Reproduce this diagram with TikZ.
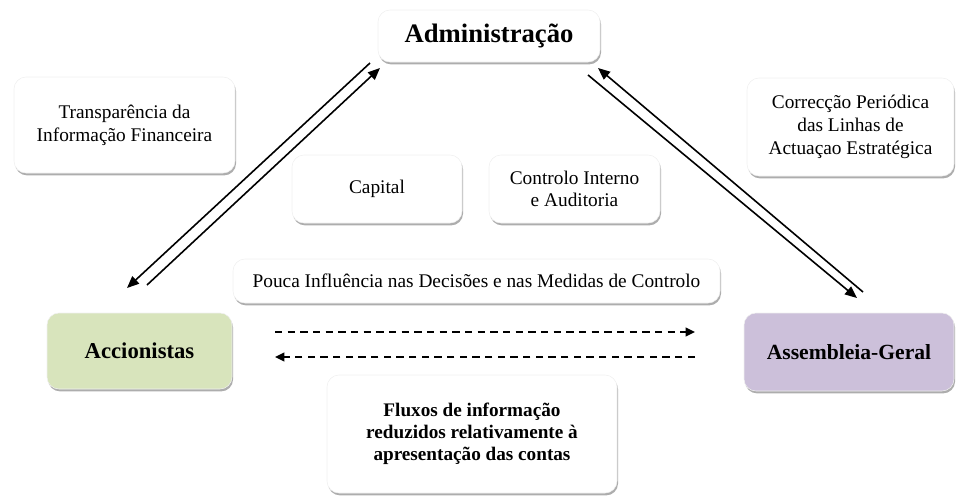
\documentclass[tikz,border=0pt]{standalone}
\usepackage{fontspec}
\setmainfont{Liberation Serif}
\usetikzlibrary{shadows,arrows.meta}
\definecolor{accgreen}{HTML}{D8E4BC}
\definecolor{asslilac}{HTML}{CCC0DA}
\tikzset{
  box/.style={rounded corners=9pt, fill=white, draw=black!6, line width=0.4pt,
    drop shadow={shadow xshift=0.8pt, shadow yshift=-1.8pt, opacity=0.4, fill=black!80},
    align=center, inner sep=0pt},
  txt/.style={font=\fontsize{14.5}{17}\selectfont},
  btxt/.style={font=\fontsize{14.4}{16.5}\selectfont\bfseries},
  arr/.style={line width=1.2pt, -{Triangle[length=9pt,width=7.5pt]}},
  darr/.style={line width=1.3pt, dash pattern=on 5.5pt off 4pt, -{Triangle[length=7pt,width=6.5pt]}}
}
\begin{document}
\begin{tikzpicture}[x=0.75pt,y=-0.75pt]
\useasboundingbox (0,0) rectangle (958,497);
% boxes
\node[box, minimum width=166.5pt, minimum height=39pt, font=\fontsize{20}{22}\selectfont\bfseries] (adm) at (489,36) {Administração};
\node[box, txt, minimum width=165.75pt, minimum height=72pt] (trans) at (124.5,125) {Transparência da\\Informação Financeira};
\node[box, txt, minimum width=155.25pt, minimum height=73.5pt] (corr) at (850.5,127) {Correcção Periódica\\das Linhas de\\Actuaçao Estratégica};
\node[box, txt, minimum width=127.5pt, minimum height=51pt] (cap) at (377,189) {Capital};
\node[box, txt, minimum width=128.25pt, minimum height=51pt] (ctrl) at (574.5,189) {Controlo Interno\\e Auditoria};
\node[box, txt, minimum width=365.25pt, minimum height=33pt] (pouca) at (476.5,281) {Pouca Influência nas Decisões e nas Medidas de Controlo};
\node[box, fill=accgreen, minimum width=138.75pt, minimum height=57pt, font=\fontsize{17}{19}\selectfont\bfseries] (acc) at (139.5,351) {Accionistas};
\node[box, fill=asslilac, minimum width=157.5pt, minimum height=58.5pt, font=\fontsize{16.2}{19}\selectfont\bfseries] (ass) at (849,352) {Assembleia-Geral};
\node[box, btxt, minimum width=217.5pt, minimum height=88.5pt] (flux) at (472,434) {Fluxos de informação\\reduzidos relativamente à\\apresentação das contas};
% arrow end points
\coordinate (l1s) at (370,63);
\coordinate (l1e) at (127,288);
\coordinate (l2s) at (147,285);
\coordinate (l2e) at (380,68);
\coordinate (r1s) at (588,75);
\coordinate (r1e) at (857,298);
\coordinate (r2s) at (863,292);
\coordinate (r2e) at (598,68);
\coordinate (d1s) at (275,332);
\coordinate (d1e) at (695,332);
\coordinate (d2s) at (695,357);
\coordinate (d2e) at (275,357);
% connectors
\draw[arr] (l1s) -- (l1e);
\draw[arr] (l2s) -- (l2e);
\draw[arr] (r1s) -- (r1e);
\draw[arr] (r2s) -- (r2e);
\draw[darr] (d1s) -- (d1e);
\draw[darr] (d2s) -- (d2e);
\end{tikzpicture}
\end{document}
